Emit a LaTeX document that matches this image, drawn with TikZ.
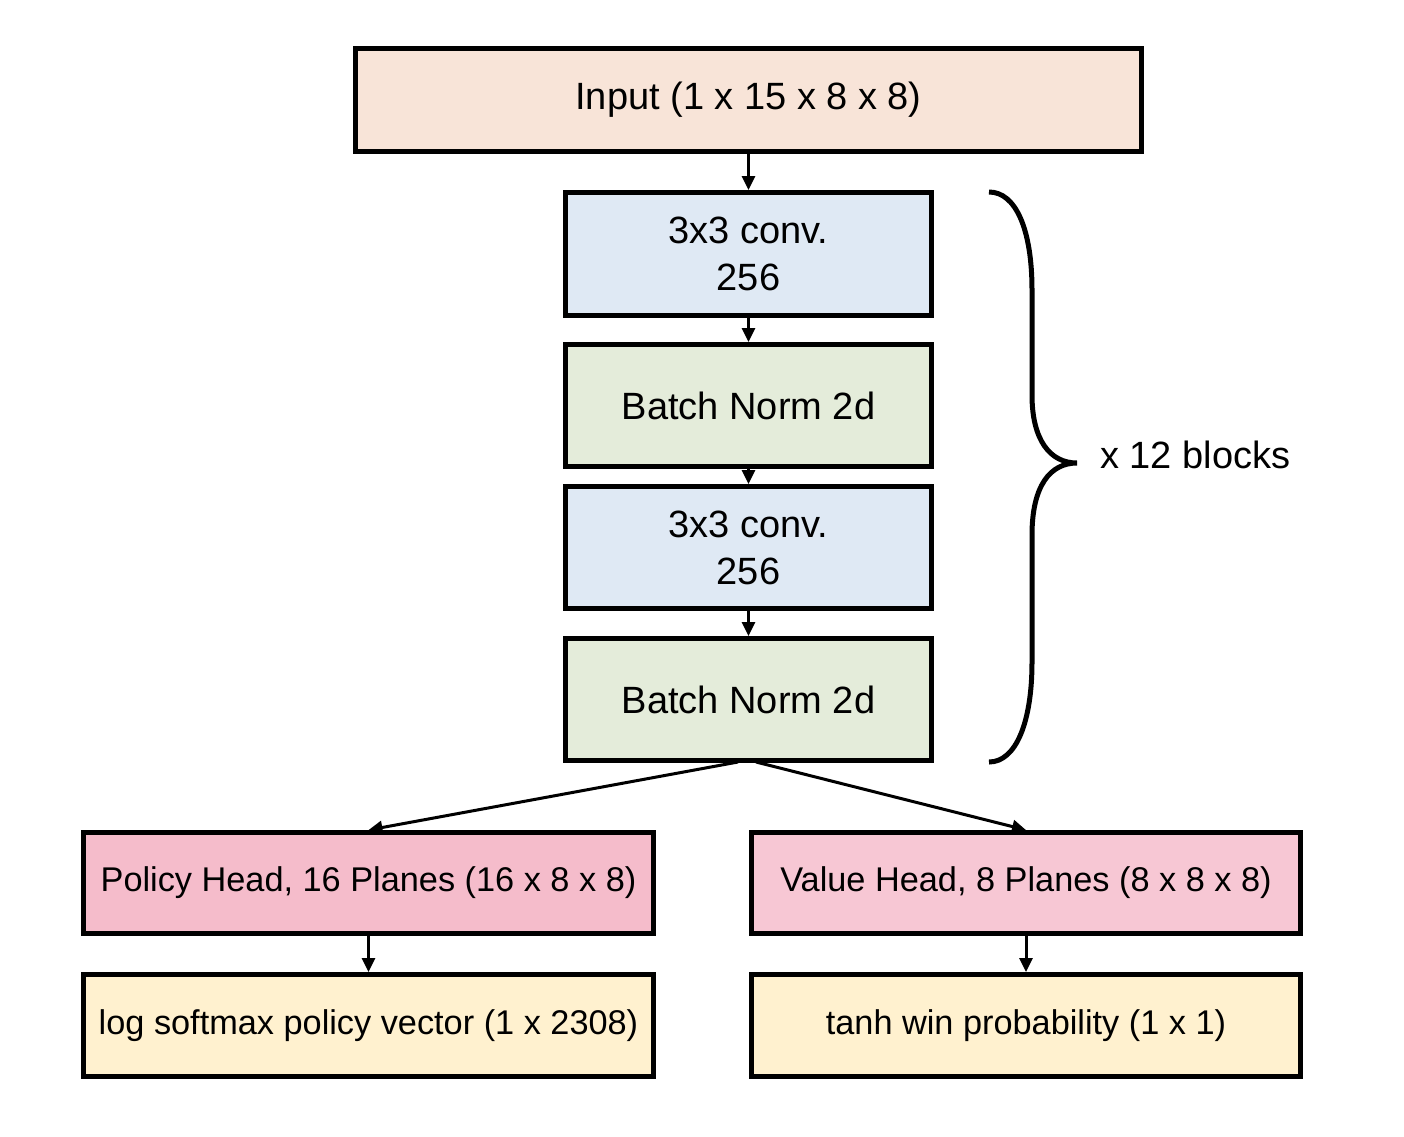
\documentclass[tikz,border=0pt]{standalone}
\usepackage{fontspec}
\setmainfont{Liberation Sans}
\usetikzlibrary{arrows.meta}
\definecolor{cinput}{HTML}{F8E4D8}
\definecolor{cconv}{HTML}{DFE9F4}
\definecolor{cbn}{HTML}{E4ECDA}
\definecolor{cpol}{HTML}{F5BCCB}
\definecolor{cval}{HTML}{F7C7D4}
\definecolor{cout}{HTML}{FFF1CF}
\tikzset{
  box/.style={draw=black, line width=5pt, inner sep=0pt, align=center, font=\fontsize{38}{47}\selectfont},
  smallbox/.style={box, font=\fontsize{34.3}{40}\selectfont},
  arr/.style={line width=3pt, -{Triangle[length=14pt,width=13pt]}},
  bracestyle/.style={line width=5pt}
}
\begin{document}
\begin{tikzpicture}[x=1pt,y=-1pt]
\useasboundingbox (0,0) rectangle (1404,1136);
\node[box, fill=cinput, minimum width=786pt, minimum height=103pt] (input) at (748.5,100) {\raisebox{-4pt}{Input (1 x 15 x 8 x 8)}};
\node[box, fill=cconv, minimum width=366pt, minimum height=123pt] (conv1) at (748.5,254) {3x3 conv.\\256};
\node[box, fill=cbn, minimum width=366pt, minimum height=122pt] (bn1) at (748.5,405.5) {\raisebox{-2pt}{Batch Norm 2d}};
\node[box, fill=cconv, minimum width=366pt, minimum height=122pt] (conv2) at (748.5,547.5) {3x3 conv.\\256};
\node[box, fill=cbn, minimum width=366pt, minimum height=122pt] (bn2) at (748.5,699.5) {\raisebox{-2pt}{Batch Norm 2d}};
\node[smallbox, fill=cpol, minimum width=570pt, minimum height=101pt] (policy) at (368.5,883) {\raisebox{-3pt}{Policy Head, 16 Planes (16 x 8 x 8)}};
\node[smallbox, fill=cval, minimum width=549pt, minimum height=101pt] (value) at (1026,883) {\raisebox{-3pt}{Value Head, 8 Planes (8 x 8 x 8)}};
\node[smallbox, fill=cout, minimum width=570pt, minimum height=102pt] (logsm) at (368.5,1025.5) {\raisebox{-3pt}{log softmax policy vector (1 x 2308)}};
\node[smallbox, fill=cout, minimum width=549pt, minimum height=102pt] (tanhout) at (1026,1025.5) {\raisebox{-3pt}{tanh win probability (1 x 1)}};
\node[anchor=west, inner sep=0pt, font=\fontsize{38}{47}\selectfont] (blocks) at (1100,455) {x 12 blocks};

\draw[arr] (input) -- (conv1);
\draw[arr] (conv1) -- (bn1);
\draw[arr] (bn1) -- (conv2);
\draw[arr] (conv2) -- (bn2);
\coordinate (sl) at (738,762);
\coordinate (sr) at (756,762);
\draw[arr] (sl) -- (policy.north);
\draw[arr] (sr) -- (value.north);
\draw[arr] (policy) -- (logsm);
\draw[arr] (value) -- (tanhout);

\draw[bracestyle] (989,192) .. controls (1016,192) and (1032,230) .. (1032,290) -- (1032,395)
  .. controls (1032,440) and (1050,463) .. (1077,463)
  .. controls (1050,463) and (1032,486) .. (1032,535) -- (1032,662)
  .. controls (1032,722) and (1016,762) .. (989,762);
\end{tikzpicture}
\end{document}
